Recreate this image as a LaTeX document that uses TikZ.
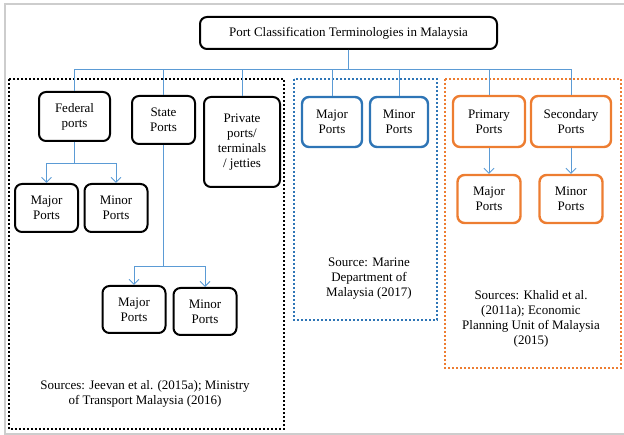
\documentclass[tikz,border=0pt]{standalone}
\usepackage{fontspec}
\setmainfont{Liberation Serif}
\usetikzlibrary{arrows.meta}
\definecolor{linkblue}{RGB}{91,155,213}
\definecolor{mdblue}{RGB}{46,117,182}
\definecolor{epuorange}{RGB}{237,125,49}
\definecolor{framegrey}{RGB}{205,205,205}

\begin{document}
\begin{tikzpicture}[x=1pt,y=-1pt,>={Straight Barb[length=5pt,width=10pt]},
	every node/.style={font=\fontsize{13}{15}\selectfont,align=center,inner sep=0pt},
	box/.style={draw,rounded corners=7pt,line width=2pt,minimum width=63pt,minimum height=48pt},
	bluebox/.style={box,draw=mdblue,line width=2.4pt,minimum height=50pt},
	orangebox/.style={box,draw=epuorange,line width=2.4pt},
	group/.style={line width=2pt,dash pattern=on 2pt off 2pt},
	link/.style={color=linkblue,line width=0.9pt},
	bus/.style={to path={-- ++(0,19) -| (\tikztotarget)}},
	drop/.style={to path={-- ++(0,#1) -| (\tikztotarget)}}]

\useasboundingbox (0,0) rectangle (624,435);
\draw[framegrey,line width=1.5pt] (624,4) -- (5,4) -- (5,434) -- (624,434);

\draw[group] (9,79) rectangle (284,429);
\draw[group,mdblue] (294,79) rectangle (437,320);
\draw[group,epuorange] (445,79) rectangle (621,368);

\node[box,minimum width=297pt,minimum height=32pt] (title) at (348.5,33) {Port Classification Terminologies in Malaysia};

\node[box,minimum width=71pt,minimum height=49pt] (fed) at (74.5,116.5) {Federal\\ports};
	\node[box] (state) at (163.5,120) {State\\Ports};
\node[box,minimum width=76pt,minimum height=90pt] (priv) at (242,142) {Private\\ports/\\terminals\\/ jetties};
 \node[box] (fmaj) at (46.5,208) {Major\\Ports};
 \node[box] (fmin) at (116,208) {Minor\\Ports};
	\node[box,minimum height=47pt] (smaj) at (134,309.5) {Major\\Ports};
	\node[box,minimum height=47pt] (smin) at (205,311.5) {Minor\\Ports};

\node[bluebox,minimum width=60pt] (mdmaj) at (332,122) {Major\\Ports};
\node[bluebox,minimum width=58pt] (mdmin) at (399,122) {Minor\\Ports};

\node[orangebox,minimum width=72pt,minimum height=51pt] (prim) at (489,121.5) {Primary\\Ports};
\node[orangebox,minimum width=80pt,minimum height=51pt] (sec) at (571,121.5) {Secondary\\Ports};
	\node[orangebox] (omaj) at (489,199) {Major\\Ports};
	\node[orangebox] (omin) at (571,199) {Minor\\Ports};

\node (motsrc) at (145,394) {Sources: Jeevan et al. (2015a); Ministry\\of Transport Malaysia (2016)};
\node (mdsrc) at (369,279) {Source: Marine\\Department of\\Malaysia (2017)};
\node (eposrc) at (531,319) {Sources: Khalid et al.\\(2011a); Economic\\Planning Unit of Malaysia\\(2015)};

\path[link] (title.south) edge[bus] (fed.north)
			edge[bus] (state.north)
			edge[bus] (priv.north)
			edge[bus] (mdmaj.north)
			edge[bus] (mdmin.north)
			edge[bus] (prim.north)
			edge[bus] (sec.north);

\path[link] (fed.south) edge[->,drop=21] (fmaj.north)
					edge[->,drop=21] (fmin.north)
			(state.south) edge[->,drop=121] (smaj.north)
					edge[->,drop=121] (smin.north)
			(prim) edge[->] (omaj)
			(sec) edge[->] (omin);

\end{tikzpicture}
\end{document}
